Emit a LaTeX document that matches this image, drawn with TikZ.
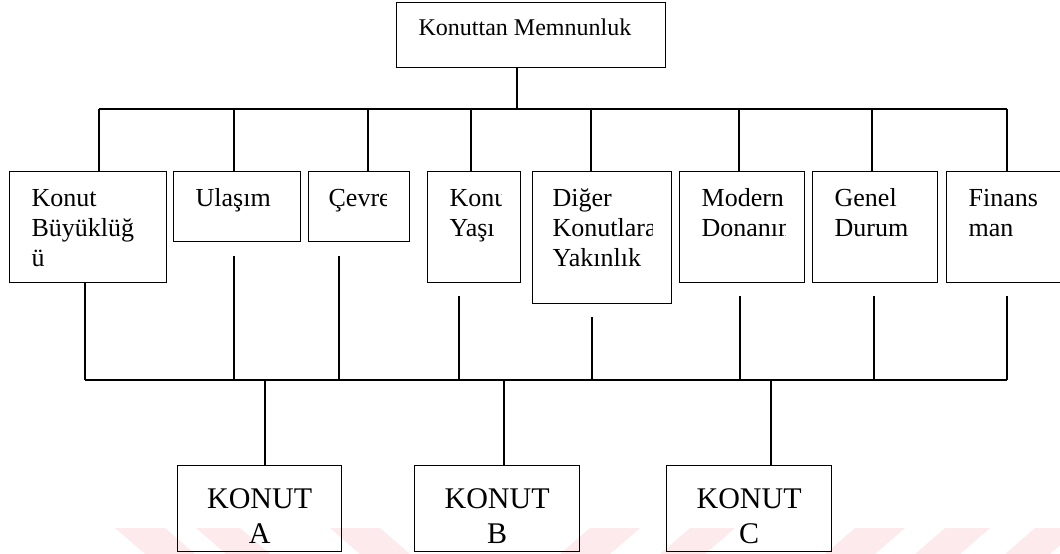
\documentclass[tikz,border=0pt]{standalone}
\usepackage{fontspec}
\setmainfont{Liberation Serif}
\definecolor{wm}{RGB}{253,234,237}

\begin{document}
\begin{tikzpicture}[x=1pt,y=-1pt,line width=1.3pt]
            \tikzstyle{box}=[draw,rectangle,inner sep=0pt,anchor=north west]
            \tikzstyle{toptext}=[anchor=base west,inner sep=0pt,font=\fontsize{24}{29}\selectfont]
            \tikzstyle{cattext}=[anchor=base west,inner sep=0pt,font=\fontsize{26}{30}\selectfont]
            \tikzstyle{konuttext}=[anchor=base,inner sep=0pt,font=\fontsize{30}{35}\selectfont]

            \useasboundingbox (0,0) rectangle (1060,554);

            % faint watermark at the foot of the page
            \fill[wm] (115,528) -- (165,528) -- (195,554) -- (145,554) -- cycle;
            \fill[wm] (196,528) -- (240,528) -- (270,554) -- (226,554) -- cycle;
            \fill[wm] (330,528) -- (380,528) -- (410,554) -- (360,554) -- cycle;
            \fill[wm] (590,528) -- (640,528) -- (610,554) -- (560,554) -- cycle;
            \fill[wm] (690,528) -- (735,528) -- (705,554) -- (660,554) -- cycle;
            \fill[wm] (855,528) -- (905,528) -- (875,554) -- (825,554) -- cycle;
            \fill[wm] (945,528) -- (990,528) -- (960,554) -- (915,554) -- cycle;
            \fill[wm] (1035,528) -- (1080,528) -- (1050,554) -- (1005,554) -- cycle;

            % top
            \node[box,minimum width=269pt,minimum height=65pt] (memnun) at (396,2) {};
            \node[toptext] (memnunt) at ([xshift=22pt,yshift=-33pt]memnun.north west) {Konuttan Memnunluk};

            % criteria
            \node[box,minimum width=157pt,minimum height=111pt] (b1) at (9,171) {};
            \node[box,minimum width=127pt,minimum height=70pt] (b2) at (173,171) {};
            \node[box,minimum width=101pt,minimum height=70pt] (b3) at (308,171) {};
            \node[box,minimum width=93pt,minimum height=111pt] (b4) at (427,171) {};
            \node[box,minimum width=139pt,minimum height=132pt] (b5) at (532,171) {};
            \node[box,minimum width=125pt,minimum height=111pt] (b6) at (679,171) {};
            \node[box,minimum width=125pt,minimum height=111pt] (b7) at (812,171) {};
            \node[box,minimum width=125pt,minimum height=111pt] (b8) at (946,171) {};

            \begin{scope}
                \clip (b1.north west) rectangle ([xshift=-20pt]b1.south east);
                \node[cattext] (t1) at ([xshift=22pt,yshift=-35pt]b1.north west) {\parbox[t]{150pt}{Konut\\Büyüklüğ\\ü}};
            \end{scope}
            \begin{scope}
                \clip (b2.north west) rectangle ([xshift=-20pt]b2.south east);
                \node[cattext] (t2) at ([xshift=22pt,yshift=-35pt]b2.north west) {Ulaşım};
            \end{scope}
            \begin{scope}
                \clip (b3.north west) rectangle ([xshift=-24pt]b3.south east);
                \node[cattext] (t3) at ([xshift=20pt,yshift=-35pt]b3.north west) {Çevre};
            \end{scope}
            \begin{scope}
                \clip (b4.north west) rectangle ([xshift=-20pt]b4.south east);
                \node[cattext] (t4) at ([xshift=22pt,yshift=-35pt]b4.north west) {\parbox[t]{150pt}{Konut\\Yaşı}};
            \end{scope}
            \begin{scope}
                \clip (b5.north west) rectangle ([xshift=-20pt]b5.south east);
                \node[cattext] (t5) at ([xshift=20pt,yshift=-35pt]b5.north west) {\parbox[t]{150pt}{Diğer\\Konutlara\\Yakınlık}};
            \end{scope}
            \begin{scope}
                \clip (b6.north west) rectangle ([xshift=-20pt]b6.south east);
                \node[cattext] (t6) at ([xshift=22pt,yshift=-35pt]b6.north west) {\parbox[t]{150pt}{Modern\\Donanım}};
            \end{scope}
            \node[cattext] (t7) at ([xshift=22pt,yshift=-35pt]b7.north west) {\parbox[t]{150pt}{Genel\\Durum}};
            \node[cattext] (t8) at ([xshift=22pt,yshift=-35pt]b8.north west) {\parbox[t]{150pt}{Finans\\man}};

            % upper tree
            \coordinate (j0) at (517,109);
            \coordinate (u1) at (99,109);
            \coordinate (u2) at (234,109);
            \coordinate (u3) at (368,109);
            \coordinate (u4) at (471,109);
            \coordinate (u5) at (591,109);
            \coordinate (u6) at (739,109);
            \coordinate (u7) at (872,109);
            \coordinate (u8) at (1007,109);
            \draw (j0 |- memnun.south) -- (j0);
            \draw (u1) -- (u8);
            \draw (u1) -- (u1 |- b1.north);
            \draw (u2) -- (u2 |- b2.north);
            \draw (u3) -- (u3 |- b3.north);
            \draw (u4) -- (u4 |- b4.north);
            \draw (u5) -- (u5 |- b5.north);
            \draw (u6) -- (u6 |- b6.north);
            \draw (u7) -- (u7 |- b7.north);
            \draw (u8) -- (u8 |- b8.north);

            % lower tree
            \coordinate (l1) at (85,380);
            \coordinate (l2) at (234,380);
            \coordinate (l3) at (339,380);
            \coordinate (l4) at (459,380);
            \coordinate (l5) at (592,380);
            \coordinate (l6) at (740,380);
            \coordinate (l7) at (874,380);
            \coordinate (l8) at (1007,380);
            \coordinate (s2) at (234,256);
            \coordinate (s3) at (339,256);
            \coordinate (s4) at (459,296);
            \coordinate (s5) at (592,317);
            \coordinate (s6) at (740,296);
            \coordinate (s7) at (874,296);
            \coordinate (s8) at (1007,296);
            \draw (l1 |- b1.south) -- (l1);
            \draw (s2) -- (l2);
            \draw (s3) -- (l3);
            \draw (s4) -- (l4);
            \draw (s5) -- (l5);
            \draw (s6) -- (l6);
            \draw (s7) -- (l7);
            \draw (s8) -- (l8);
            \draw (l1) -- (l8);

            % houses
            \node[box,minimum width=164pt,minimum height=86pt] (kA) at (177,465) {};
            \node[box,minimum width=165pt,minimum height=86pt] (kB) at (414,465) {};
            \node[box,minimum width=165pt,minimum height=86pt] (kC) at (666,465) {};
            \node[konuttext] (kAt) at ([yshift=-43pt]kA.north) {\parbox[t]{150pt}{\centering KONUT\\A}};
            \node[konuttext] (kBt) at ([yshift=-43pt]kB.north) {\parbox[t]{150pt}{\centering KONUT\\B}};
            \node[konuttext] (kCt) at ([yshift=-43pt]kC.north) {\parbox[t]{150pt}{\centering KONUT\\C}};
            \coordinate (dA) at (265,380);
            \coordinate (dB) at (504,380);
            \coordinate (dC) at (771,380);
            \draw (dA) -- (dA |- kA.north);
            \draw (dB) -- (dB |- kB.north);
            \draw (dC) -- (dC |- kC.north);
\end{tikzpicture}
\end{document}
